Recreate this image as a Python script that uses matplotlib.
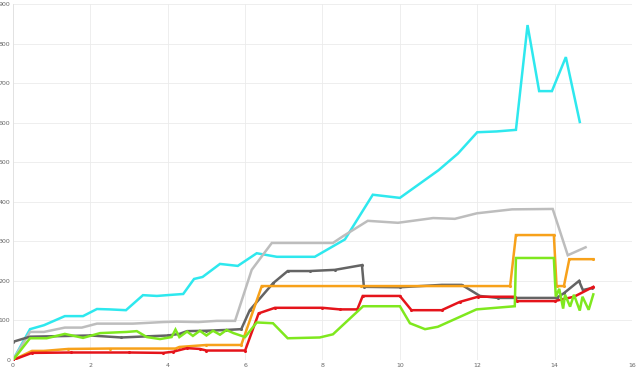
import numpy as np
import matplotlib.pyplot as plt

# series (x, value)
cyan_x = [0, 0.44, 0.8, 1.34, 1.81, 2.17, 2.5, 2.92, 3.36, 3.72, 3.98, 4.4, 4.68, 4.9, 5.35, 5.81, 6.3, 6.82, 7.8, 8.58, 9.3, 10.0, 10.5, 11.0, 11.5, 12.0, 12.5, 13.0, 13.3, 13.6, 13.93, 14.29, 14.65]
cyan_y = [0, 78, 88, 111, 111, 129, 128, 126, 164, 162, 164, 167, 205, 210, 243, 238, 270, 261, 261, 305, 418, 410, 445, 480, 522, 576, 578, 582, 847, 680, 680, 766, 602]

lgray_x = [0, 0.44, 0.8, 1.34, 1.78, 2.17, 3.1, 3.88, 4.23, 4.79, 5.27, 5.74, 6.17, 6.69, 8.27, 8.53, 9.17, 9.95, 10.86, 11.42, 11.99, 12.9, 13.95, 14.34, 14.8]
lgray_y = [0, 71, 71, 82, 82, 92, 92, 96, 97, 96, 99, 99, 228, 296, 296, 313, 352, 347, 359, 357, 371, 381, 382, 265, 285]

dgray_x = [0, 0.44, 1.0, 2.0, 2.8, 3.5, 4.0, 4.3, 4.5, 5.0, 5.5, 5.9, 6.12, 6.72, 7.1, 7.67, 8.32, 9.02, 9.07, 10.0, 11.08, 11.6, 12.07, 12.53, 14.05, 14.24, 14.63, 14.73, 14.96]
dgray_y = [46, 59, 60, 62, 57, 60, 62, 66, 73, 74, 76, 78, 126, 194, 225, 225, 228, 240, 185, 184, 190, 190, 162, 157, 157, 169, 200, 177, 182]

orange_x = [0, 0.49, 0.8, 1.43, 2.5, 4.2, 4.3, 5.0, 5.9, 6.43, 9.0, 12.85, 13.0, 13.98, 14.05, 14.24, 14.38, 15.0]
orange_y = [0, 23, 23, 28, 29, 29, 33, 38, 38, 187, 187, 187, 316, 316, 187, 187, 255, 255]

red_x = [0, 0.49, 1.5, 3.0, 3.88, 4.14, 4.5, 4.83, 5.0, 6.0, 6.35, 6.77, 8.0, 8.45, 8.9, 9.04, 10.0, 10.3, 11.08, 11.55, 12.02, 12.97, 13.02, 14.0, 14.5, 15.0]
red_y = [0, 18, 19, 19, 18, 21, 30, 28, 24, 24, 118, 132, 132, 128, 128, 162, 162, 126, 126, 147, 160, 160, 149, 149, 160, 185]

green_x = [0, 0.44, 0.87, 1.34, 1.81, 2.25, 2.94, 3.2, 3.46, 3.8, 4.1, 4.2, 4.3, 4.5, 4.65, 4.83, 5.0, 5.17, 5.35, 5.52, 5.7, 6.0, 6.3, 6.72, 7.1, 7.93, 8.27, 9.05, 10.0, 10.26, 10.65, 10.98, 11.98, 12.97, 13.0, 13.98, 14.03, 14.12, 14.22, 14.27, 14.4, 14.5, 14.65, 14.72, 14.88, 15.0]
green_y = [0, 55, 55, 66, 56, 68, 71, 73, 58, 53, 58, 77, 58, 72, 61, 74, 62, 74, 64, 76, 68, 58, 95, 93, 55, 57, 65, 136, 136, 93, 78, 84, 128, 136, 258, 258, 160, 180, 130, 165, 135, 165, 125, 160, 127, 166]

series = [
    (cyan_x, cyan_y, '#2EE8EE', False),
    (lgray_x, lgray_y, '#BDBDBD', False),
    (dgray_x, dgray_y, '#646464', True),
    (orange_x, orange_y, '#F7A11A', True),
    (red_x, red_y, '#E5141B', True),
    (green_x, green_y, '#7FE81E', False),
]

fig, ax = plt.subplots(figsize=(6.4, 3.74), dpi=100)
fig.subplots_adjust(left=0.0203, right=0.9875, bottom=0.0374, top=0.989)

for x, y, c, dots in series:
    if dots:
        ax.plot(x, y, color=c, lw=1.8, marker='o', ms=1.2, mec=c, mfc=c, solid_joinstyle='miter')
    else:
        ax.plot(x, y, color=c, lw=1.8, solid_joinstyle='miter')

ax.set_xlim(0, 16)
ax.set_ylim(0, 900)
ax.set_xticks(np.arange(0, 17, 2))
ax.set_yticks(np.arange(0, 901, 100))
ax.grid(True, color='#EBEBEB', lw=0.6)
ax.set_axisbelow(True)
for s in ['top', 'right', 'bottom']:
    ax.spines[s].set_visible(False)
ax.spines['left'].set_color('#E0E0E0')
ax.spines['left'].set_linewidth(0.6)
ax.tick_params(length=0, labelsize=4.5, labelcolor='#666666', pad=2)

fig.savefig('out.png', dpi=100)
